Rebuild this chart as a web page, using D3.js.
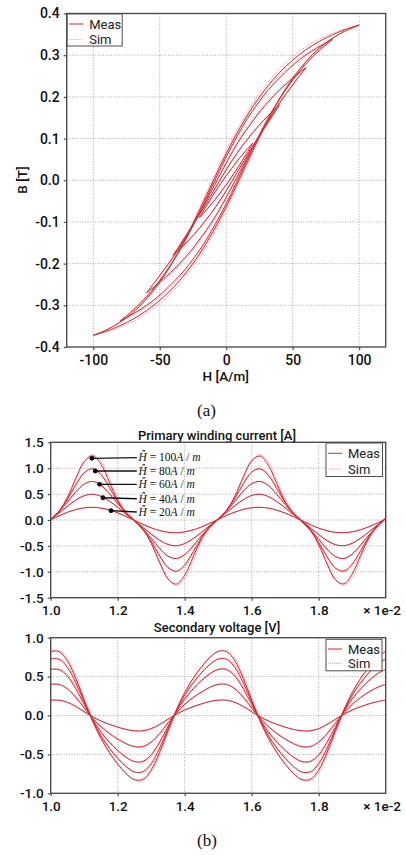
<!DOCTYPE html>
<html><head><meta charset="utf-8">
<script src="https://cdn.jsdelivr.net/npm/d3@7"></script>
<style>body{margin:0;background:#fff}</style>
</head><body><svg id="c" width="406" height="855"></svg>
<script>
// ---------- (a) hysteresis loops ----------
const hystH100 = [-100,-90,-80,-70,-60,-50,-40,-30,-20,-10,0,10,20,30,40,50,60,70,80,90,100];
const hystH80  = [-80,-72,-64,-56,-48,-40,-32,-24,-16,-8,0,8,16,24,32,40,48,56,64,72,80];
const hystH60  = [-60,-54,-48,-42,-36,-30,-24,-18,-12,-6,0,6,12,18,24,30,36,42,48,54,60];
const hystH40  = [-40,-36,-32,-28,-24,-20,-16,-12,-8,-4,0,4,8,12,16,20,24,28,32,36,40];
const hystH20  = [-20,-18,-16,-14,-12,-10,-8,-6,-4,-2,0,2,4,6,8,10,12,14,16,18,20];

const measLower100 = [-0.372,-0.362,-0.349,-0.333,-0.313,-0.288,-0.258,-0.221,-0.177,-0.124,-0.064,0.003,0.071,0.136,0.195,0.245,0.285,0.317,0.341,0.359,0.372];
const measUpper100 = [-0.372,-0.359,-0.341,-0.317,-0.285,-0.245,-0.195,-0.136,-0.071,-0.003,0.064,0.124,0.177,0.221,0.258,0.288,0.313,0.333,0.349,0.362,0.372];
const measLower80 = [-0.338,-0.324,-0.309,-0.291,-0.270,-0.245,-0.218,-0.185,-0.148,-0.104,-0.056,-0.003,0.051,0.103,0.152,0.195,0.232,0.265,0.293,0.317,0.338];
const measUpper80 = [-0.338,-0.317,-0.293,-0.265,-0.232,-0.195,-0.152,-0.103,-0.051,0.003,0.056,0.104,0.148,0.185,0.218,0.245,0.270,0.291,0.309,0.324,0.338];
const measLower60 = [-0.270,-0.255,-0.239,-0.222,-0.203,-0.182,-0.159,-0.133,-0.106,-0.075,-0.041,-0.005,0.031,0.068,0.102,0.135,0.165,0.194,0.220,0.246,0.270];
const measUpper60 = [-0.270,-0.246,-0.220,-0.194,-0.165,-0.135,-0.102,-0.068,-0.031,0.005,0.041,0.075,0.106,0.133,0.159,0.182,0.203,0.222,0.239,0.255,0.270];
const measLower40 = [-0.180,-0.168,-0.156,-0.143,-0.129,-0.114,-0.098,-0.082,-0.064,-0.045,-0.025,-0.004,0.018,0.039,0.061,0.082,0.102,0.122,0.141,0.161,0.180];
const measUpper40 = [-0.180,-0.161,-0.141,-0.122,-0.102,-0.082,-0.061,-0.039,-0.018,0.004,0.025,0.045,0.064,0.082,0.098,0.114,0.129,0.143,0.156,0.168,0.180];
const measLower20 = [-0.089,-0.082,-0.075,-0.068,-0.060,-0.053,-0.045,-0.036,-0.028,-0.019,-0.011,-0.002,0.008,0.017,0.027,0.036,0.047,0.057,0.067,0.078,0.089];
const measUpper20 = [-0.089,-0.078,-0.067,-0.057,-0.047,-0.036,-0.027,-0.017,-0.008,0.002,0.011,0.019,0.028,0.036,0.045,0.053,0.060,0.068,0.075,0.082,0.089];

const simLower100 = [-0.372,-0.364,-0.353,-0.339,-0.320,-0.296,-0.266,-0.229,-0.185,-0.132,-0.071,-0.004,0.065,0.131,0.190,0.241,0.282,0.315,0.340,0.358,0.372];
const simUpper100 = [-0.372,-0.358,-0.340,-0.315,-0.282,-0.241,-0.190,-0.131,-0.065,0.004,0.071,0.132,0.185,0.229,0.266,0.296,0.320,0.339,0.353,0.364,0.372];
const simLower80 = [-0.338,-0.326,-0.312,-0.295,-0.275,-0.251,-0.224,-0.191,-0.154,-0.110,-0.061,-0.008,0.046,0.098,0.148,0.191,0.229,0.263,0.292,0.316,0.338];
const simUpper80 = [-0.338,-0.316,-0.292,-0.263,-0.229,-0.191,-0.148,-0.098,-0.046,0.008,0.061,0.110,0.154,0.191,0.224,0.251,0.275,0.295,0.312,0.326,0.338];
const simLower60 = [-0.270,-0.257,-0.242,-0.226,-0.207,-0.186,-0.163,-0.137,-0.110,-0.079,-0.045,-0.009,0.027,0.064,0.098,0.132,0.163,0.192,0.219,0.245,0.270];
const simUpper60 = [-0.270,-0.245,-0.219,-0.192,-0.163,-0.132,-0.098,-0.064,-0.027,0.009,0.045,0.079,0.110,0.137,0.163,0.186,0.207,0.226,0.242,0.257,0.270];
const simLower40 = [-0.180,-0.169,-0.158,-0.145,-0.131,-0.116,-0.100,-0.084,-0.066,-0.047,-0.027,-0.006,0.016,0.037,0.059,0.080,0.100,0.121,0.140,0.160,0.180];
const simUpper40 = [-0.180,-0.160,-0.140,-0.121,-0.100,-0.080,-0.059,-0.037,-0.016,0.006,0.027,0.047,0.066,0.084,0.100,0.116,0.131,0.145,0.158,0.169,0.180];
const simLower20 = [-0.089,-0.083,-0.076,-0.069,-0.061,-0.054,-0.046,-0.037,-0.029,-0.020,-0.012,-0.003,0.007,0.016,0.026,0.035,0.046,0.056,0.067,0.078,0.089];
const simUpper20 = [-0.089,-0.078,-0.067,-0.056,-0.046,-0.035,-0.026,-0.016,-0.007,0.003,0.012,0.020,0.029,0.037,0.046,0.054,0.061,0.069,0.076,0.083,0.089];

const hystXTicks = [-100,-50,0,50,100];
const hystYTicks = [-0.4,-0.3,-0.2,-0.1,0,0.1,0.2,0.3,0.4];

// ---------- (b) time series (x in units of 1e-2 s) ----------
const timeX = [1.000,1.025,1.050,1.075,1.100,1.125,1.150,1.175,1.200,1.225,1.250,1.275,1.300,1.325,1.350,1.375,1.400,1.425,1.450,1.475,1.500,1.525,1.550,1.575,1.600,1.625,1.650,1.675,1.700,1.725,1.750,1.775,1.800,1.825,1.850,1.875,1.900,1.925,1.950,1.975,2.000];

const curMeas100 = [0.010,0.169,0.440,0.807,1.128,1.239,1.076,0.732,0.376,0.130,-0.016,-0.177,-0.453,-0.822,-1.138,-1.237,-1.065,-0.715,-0.362,-0.123,0.021,0.186,0.466,0.836,1.147,1.235,1.054,0.701,0.350,0.116,-0.026,-0.195,-0.479,-0.851,-1.155,-1.233,-1.042,-0.686,-0.339,-0.109,0.031];
const curMeas80 = [0.012,0.177,0.406,0.682,0.911,0.989,0.875,0.627,0.355,0.140,-0.018,-0.185,-0.416,-0.693,-0.918,-0.988,-0.867,-0.615,-0.344,-0.133,0.024,0.193,0.427,0.703,0.925,0.987,0.859,0.604,0.335,0.127,-0.030,-0.201,-0.437,-0.714,-0.930,-0.985,-0.851,-0.593,-0.325,-0.119,0.036];
const curMeas60 = [0.012,0.168,0.351,0.544,0.695,0.744,0.671,0.507,0.313,0.135,-0.018,-0.175,-0.358,-0.551,-0.699,-0.744,-0.666,-0.499,-0.304,-0.129,0.024,0.182,0.366,0.558,0.703,0.743,0.661,0.491,0.297,0.123,-0.030,-0.189,-0.373,-0.565,-0.707,-0.742,-0.656,-0.484,-0.289,-0.116,0.036];
const curMeas40 = [0.010,0.138,0.267,0.386,0.470,0.497,0.457,0.364,0.242,0.112,-0.015,-0.143,-0.272,-0.390,-0.472,-0.496,-0.454,-0.359,-0.236,-0.107,0.020,0.149,0.277,0.394,0.474,0.496,0.451,0.355,0.231,0.102,-0.025,-0.153,-0.282,-0.398,-0.477,-0.495,-0.448,-0.350,-0.226,-0.097,0.030];
const curMeas20 = [0.006,0.082,0.149,0.202,0.235,0.245,0.230,0.193,0.137,0.067,-0.009,-0.085,-0.152,-0.204,-0.236,-0.245,-0.229,-0.191,-0.134,-0.064,0.012,0.088,0.154,0.206,0.237,0.245,0.228,0.189,0.132,0.061,-0.015,-0.091,-0.157,-0.207,-0.238,-0.244,-0.227,-0.187,-0.129,-0.058,0.018];

const curSim100 = [-0.005,0.137,0.395,0.763,1.109,1.262,1.134,0.800,0.430,0.164,0.009,-0.144,-0.407,-0.778,-1.122,-1.262,-1.124,-0.783,-0.415,-0.156,-0.004,0.152,0.420,0.794,1.132,1.261,1.113,0.768,0.403,0.148,-0.001,-0.161,-0.433,-0.809,-1.141,-1.261,-1.102,-0.753,-0.391,-0.141,0.007];
const curSim80 = [-0.005,0.155,0.380,0.659,0.902,1.001,0.906,0.665,0.388,0.164,0.002,-0.163,-0.390,-0.670,-0.909,-1.001,-0.898,-0.652,-0.377,-0.157,0.004,0.171,0.400,0.680,0.917,1.001,0.891,0.641,0.368,0.150,-0.010,-0.179,-0.410,-0.691,-0.923,-1.000,-0.884,-0.631,-0.357,-0.142,0.018];
const curSim60 = [-0.001,0.152,0.334,0.530,0.688,0.749,0.686,0.528,0.334,0.153,-0.003,-0.159,-0.341,-0.537,-0.692,-0.750,-0.681,-0.520,-0.325,-0.146,0.008,0.166,0.349,0.544,0.697,0.749,0.677,0.512,0.317,0.140,-0.014,-0.173,-0.356,-0.551,-0.701,-0.749,-0.672,-0.505,-0.309,-0.133,0.024];
const curSim40 = [0.002,0.128,0.257,0.378,0.466,0.498,0.462,0.373,0.252,0.122,-0.005,-0.133,-0.262,-0.382,-0.468,-0.497,-0.459,-0.368,-0.246,-0.117,0.010,0.139,0.267,0.386,0.470,0.497,0.457,0.364,0.241,0.112,-0.015,-0.143,-0.272,-0.390,-0.473,-0.496,-0.454,-0.359,-0.236,-0.107,0.022];
const curSim20 = [0.002,0.078,0.145,0.199,0.234,0.245,0.232,0.196,0.141,0.071,-0.004,-0.081,-0.148,-0.201,-0.235,-0.245,-0.231,-0.194,-0.138,-0.068,0.007,0.084,0.150,0.204,0.236,0.245,0.230,0.192,0.136,0.065,-0.010,-0.087,-0.154,-0.205,-0.237,-0.244,-0.229,-0.190,-0.133,-0.062,0.014];

const voltMeas100 = [0.824,0.820,0.701,0.476,0.197,-0.072,-0.297,-0.477,-0.626,-0.747,-0.824,-0.820,-0.701,-0.476,-0.197,0.072,0.297,0.477,0.626,0.747,0.824,0.820,0.701,0.476,0.197,-0.072,-0.297,-0.477,-0.626,-0.747,-0.824,-0.820,-0.701,-0.476,-0.197,0.072,0.297,0.477,0.626,0.747,0.824];
const voltMeas80 = [0.726,0.722,0.617,0.419,0.174,-0.063,-0.262,-0.420,-0.551,-0.658,-0.726,-0.722,-0.617,-0.419,-0.174,0.063,0.262,0.420,0.551,0.658,0.726,0.722,0.617,0.419,0.174,-0.063,-0.262,-0.420,-0.551,-0.658,-0.726,-0.722,-0.617,-0.419,-0.174,0.063,0.262,0.420,0.551,0.658,0.726];
const voltMeas60 = [0.592,0.589,0.504,0.342,0.142,-0.052,-0.214,-0.343,-0.450,-0.537,-0.592,-0.589,-0.504,-0.342,-0.142,0.052,0.214,0.343,0.450,0.537,0.592,0.589,0.504,0.342,0.142,-0.052,-0.214,-0.343,-0.450,-0.537,-0.592,-0.589,-0.504,-0.342,-0.142,0.052,0.214,0.343,0.450,0.537,0.592];
const voltMeas40 = [0.400,0.398,0.340,0.231,0.096,-0.035,-0.144,-0.232,-0.303,-0.362,-0.400,-0.398,-0.340,-0.231,-0.096,0.035,0.144,0.232,0.303,0.362,0.400,0.398,0.340,0.231,0.096,-0.035,-0.144,-0.232,-0.303,-0.362,-0.400,-0.398,-0.340,-0.231,-0.096,0.035,0.144,0.232,0.303,0.362,0.400];
const voltMeas20 = [0.197,0.196,0.168,0.114,0.047,-0.017,-0.071,-0.114,-0.150,-0.179,-0.197,-0.196,-0.168,-0.114,-0.047,0.017,0.071,0.114,0.150,0.179,0.197,0.196,0.168,0.114,0.047,-0.017,-0.071,-0.114,-0.150,-0.179,-0.197,-0.196,-0.168,-0.114,-0.047,0.017,0.071,0.114,0.150,0.179,0.197];

const voltSim100 = [0.828,0.835,0.729,0.511,0.232,-0.042,-0.276,-0.462,-0.615,-0.742,-0.828,-0.835,-0.729,-0.511,-0.232,0.042,0.276,0.462,0.615,0.742,0.828,0.835,0.729,0.511,0.232,-0.042,-0.276,-0.462,-0.615,-0.742,-0.828,-0.835,-0.729,-0.511,-0.232,0.042,0.276,0.462,0.615,0.742,0.828];
const voltSim80 = [0.729,0.735,0.641,0.450,0.205,-0.037,-0.243,-0.407,-0.541,-0.653,-0.729,-0.735,-0.641,-0.450,-0.205,0.037,0.243,0.407,0.541,0.653,0.729,0.735,0.641,0.450,0.205,-0.037,-0.243,-0.407,-0.541,-0.653,-0.729,-0.735,-0.641,-0.450,-0.205,0.037,0.243,0.407,0.541,0.653,0.729];
const voltSim60 = [0.595,0.600,0.524,0.367,0.167,-0.030,-0.198,-0.332,-0.442,-0.533,-0.595,-0.600,-0.524,-0.367,-0.167,0.030,0.198,0.332,0.442,0.533,0.595,0.600,0.524,0.367,0.167,-0.030,-0.198,-0.332,-0.442,-0.533,-0.595,-0.600,-0.524,-0.367,-0.167,0.030,0.198,0.332,0.442,0.533,0.595];
const voltSim40 = [0.402,0.405,0.353,0.248,0.113,-0.021,-0.134,-0.224,-0.298,-0.360,-0.402,-0.405,-0.353,-0.248,-0.113,0.021,0.134,0.224,0.298,0.360,0.402,0.405,0.353,0.248,0.113,-0.021,-0.134,-0.224,-0.298,-0.360,-0.402,-0.405,-0.353,-0.248,-0.113,0.021,0.134,0.224,0.298,0.360,0.402];
const voltSim20 = [0.198,0.200,0.175,0.122,0.056,-0.010,-0.066,-0.111,-0.147,-0.178,-0.198,-0.200,-0.175,-0.122,-0.056,0.010,0.066,0.111,0.147,0.178,0.198,0.200,0.175,0.122,0.056,-0.010,-0.066,-0.111,-0.147,-0.178,-0.198,-0.200,-0.175,-0.122,-0.056,0.010,0.066,0.111,0.147,0.178,0.198];

const timeXTicks = [1.0,1.2,1.4,1.6,1.8];
const timeXGrid = [1.2,1.4,1.6,1.8];
const curYTicks = [-1.5,-1.0,-0.5,0.0,0.5,1.0,1.5];
const voltYTicks = [-1.0,-0.5,0.0,0.5,1.0];

// annotations on the current panel
const annotValues = ["100","80","60","40","20"];
const annotPointX = [1.123,1.133,1.146,1.156,1.180];
const annotPointY = [1.19,0.946,0.689,0.43,0.18];
const annotTextX = 1.262;
const annotLineEndX = 1.257;
const annotTextY = [1.205,0.946,0.689,0.41,0.154];

// ---------- drawing ----------
const svg = d3.select("#c");
const MEAS = "#d3252d", SIM = "#eca3a9", FRAME = "#4d4d4d", GRID = "#9d9d9d";
const FONT = "Roboto, 'Open Sans', sans-serif";
const fmt1 = d => d3.format(".1f")(d).replace("\u2212", "-");
const fmt0 = d => d3.format("d")(d).replace("\u2212", "-");
let clipId = 0;

function panel(o) {
  const g = svg.append("g");
  const x = d3.scaleLinear().domain(o.xDomain).range([o.left, o.right]);
  const y = d3.scaleLinear().domain(o.yDomain).range([o.bottom, o.top]);
  const id = "clip" + (clipId++);
  g.append("clipPath").attr("id", id).append("rect")
    .attr("x", o.left).attr("y", o.top).attr("width", o.right - o.left).attr("height", o.bottom - o.top);
  const grid = g.append("g").attr("stroke", GRID).attr("stroke-width", 0.9).attr("stroke-dasharray", "1,1.6");
  grid.selectAll(".gx").data(o.xGrid).join("line")
    .attr("x1", d => x(d)).attr("x2", d => x(d)).attr("y1", o.top).attr("y2", o.bottom);
  grid.selectAll(".gy").data(o.yGrid).join("line")
    .attr("x1", o.left).attr("x2", o.right).attr("y1", d => y(d)).attr("y2", d => y(d));
  const plot = g.append("g").attr("clip-path", `url(#${id})`);
  const ax = g.append("g").attr("transform", `translate(0,${o.bottom})`)
    .call(d3.axisBottom(x).tickValues(o.xTicks).tickFormat(o.xFmt).tickSize(3).tickPadding(o.xPad));
  const ay = g.append("g").attr("transform", `translate(${o.left},0)`)
    .call(d3.axisLeft(y).tickValues(o.yTicks).tickFormat(o.yFmt).tickSize(3).tickPadding(o.yPad));
  [ax, ay].forEach(a => {
    a.select(".domain").remove();
    a.selectAll(".tick line").attr("stroke", FRAME).attr("stroke-width", 1.2);
    a.selectAll(".tick text").attr("fill", "#111").style("font-family", FONT)
      .style("font-size", o.tickSize + "px").style("font-weight", 500);
  });
  return { g, x, y, plot, o };
}

function frame(p) {
  const o = p.o;
  p.g.append("rect").attr("x", o.left).attr("y", o.top)
    .attr("width", o.right - o.left).attr("height", o.bottom - o.top)
    .attr("fill", "none").attr("stroke", FRAME).attr("stroke-width", 1.4);
}

function legend(p, bx, by, bw, bh, r1, r2) {
  const g = p.g.append("g");
  g.append("rect").attr("x", bx).attr("y", by).attr("width", bw).attr("height", bh)
    .attr("fill", "#fff").attr("stroke", FRAME).attr("stroke-width", 1);
  g.append("line").attr("x1", bx + 2).attr("x2", bx + 16).attr("y1", by + r1).attr("y2", by + r1)
    .attr("stroke", MEAS).attr("stroke-width", 1);
  g.append("line").attr("x1", bx + 2).attr("x2", bx + 16).attr("y1", by + r2).attr("y2", by + r2)
    .attr("stroke", SIM).attr("stroke-width", 1).attr("stroke-dasharray", "1,1");
  g.append("text").attr("x", bx + 22).attr("y", by + r1).attr("dy", "0.35em").text("Meas")
    .style("font-family", FONT).style("font-size", "13px").attr("fill", "#222");
  g.append("text").attr("x", bx + 22).attr("y", by + r2).attr("dy", "0.35em").text("Sim")
    .style("font-family", FONT).style("font-size", "13px").attr("fill", "#222");
}

// ----- panel (a) -----
const pa = panel({
  left: 66.7, right: 385.7, top: 13.5, bottom: 347,
  xDomain: [-120, 120], yDomain: [-0.4, 0.4],
  xTicks: hystXTicks, yTicks: hystYTicks, xGrid: hystXTicks, yGrid: hystYTicks.slice(1, -1),
  xFmt: fmt0, yFmt: fmt1, xPad: 5, yPad: 4, tickSize: 14
});
const loops = [
  [hystH100, measLower100, measUpper100, simLower100, simUpper100],
  [hystH80, measLower80, measUpper80, simLower80, simUpper80],
  [hystH60, measLower60, measUpper60, simLower60, simUpper60],
  [hystH40, measLower40, measUpper40, simLower40, simUpper40],
  [hystH20, measLower20, measUpper20, simLower20, simUpper20]
];
const loopLine = d3.line().x(d => pa.x(d[0])).y(d => pa.y(d[1])).curve(d3.curveCatmullRom.alpha(0.5));
function loopPts(H, lo, up) {
  const a = H.map((h, i) => [h, lo[i]]);
  const b = H.map((h, i) => [h, up[i]]).reverse();
  return [a, b];
}
loops.forEach(L => {
  loopPts(L[0], L[3], L[4]).forEach(seg =>
    pa.plot.append("path").attr("d", loopLine(seg)).attr("fill", "none")
      .attr("stroke", SIM).attr("stroke-width", 1).attr("stroke-dasharray", "1.2,0.8"));
});
loops.forEach(L => {
  loopPts(L[0], L[1], L[2]).forEach(seg =>
    pa.plot.append("path").attr("d", loopLine(seg)).attr("fill", "none")
      .attr("stroke", MEAS).attr("stroke-width", 1));
});
frame(pa);
legend(pa, 67.2, 14, 55, 32, 10, 25.5);
pa.g.append("text").attr("x", 225.7).attr("y", 381).attr("text-anchor", "middle").text("H [A/m]")
  .style("font-family", FONT).style("font-size", "13.5px").style("font-weight", 500).attr("fill", "#111");
pa.g.append("text").attr("transform", "translate(27,180) rotate(-90)").attr("text-anchor", "middle").text("B [T]")
  .style("font-family", FONT).style("font-size", "13.5px").style("font-weight", 500).attr("fill", "#111");
svg.append("text").attr("x", 206.5).attr("y", 416).attr("text-anchor", "middle").text("(a)")
  .style("font-family", "'Liberation Serif', 'Times New Roman', serif").style("font-size", "17px").attr("fill", "#111");

// ----- panel (b) -----
function timePanel(top, bottom, yDomain, yTicks, title, titleY) {
  const p = panel({
    left: 50.7, right: 385.7, top, bottom,
    xDomain: [1.0, 2.0], yDomain,
    xTicks: timeXTicks, yTicks, xGrid: timeXGrid, yGrid: yTicks.slice(1, -1),
    xFmt: fmt1, yFmt: fmt1, xPad: 5, yPad: 4, tickSize: 13.5
  });
  p.g.append("text").attr("x", 217).attr("y", titleY).attr("text-anchor", "middle").text(title)
    .style("font-family", FONT).style("font-size", "13px").style("font-weight", 500).attr("fill", "#111");
  p.g.append("text").attr("x", 401).attr("y", bottom + 8).attr("dy", "0.71em").attr("text-anchor", "end")
    .text("\u00d7 1e-2").style("font-family", FONT).style("font-size", "13.5px").style("font-weight", 500).attr("fill", "#111");
  return p;
}
function drawSeries(p, simList, measList) {
  const line = d3.line().x((d, i) => p.x(timeX[i])).y(d => p.y(d)).curve(d3.curveCatmullRom.alpha(0.5));
  simList.forEach(s => p.plot.append("path").attr("d", line(s)).attr("fill", "none")
    .attr("stroke", SIM).attr("stroke-width", 1.1).attr("stroke-dasharray", "1.2,0.8"));
  measList.forEach(s => p.plot.append("path").attr("d", line(s)).attr("fill", "none")
    .attr("stroke", MEAS).attr("stroke-width", 1));
}

const pc = timePanel(442.3, 597.7, [-1.5, 1.5], curYTicks, "Primary winding current [A]", 439.5);
drawSeries(pc, [curSim100, curSim80, curSim60, curSim40, curSim20], [curMeas100, curMeas80, curMeas60, curMeas40, curMeas20]);
frame(pc);
legend(pc, 326, 443, 56.5, 33.5, 10.3, 26);
const ann = pc.g.append("g");
annotValues.forEach((v, i) => {
  ann.append("line").attr("x1", pc.x(annotPointX[i])).attr("y1", pc.y(annotPointY[i]))
    .attr("x2", pc.x(annotLineEndX)).attr("y2", pc.y(annotTextY[i]))
    .attr("stroke", "#111").attr("stroke-width", 1.3);
  ann.append("circle").attr("cx", pc.x(annotPointX[i])).attr("cy", pc.y(annotPointY[i])).attr("r", 2.4).attr("fill", "#000");
  const t = ann.append("text").attr("x", pc.x(annotTextX)).attr("y", pc.y(annotTextY[i])).attr("dy", "0.33em")
    .style("font-family", "'Liberation Serif', 'Times New Roman', serif").style("font-size", "11.5px").attr("fill", "#111");
  t.append("tspan").style("font-style", "italic").text("\u0124");
  t.append("tspan").text(" = " + v);
  t.append("tspan").style("font-style", "italic").text("A");
  t.append("tspan").text(" / ");
  t.append("tspan").style("font-style", "italic").text("m");
});

const pv = timePanel(637.7, 793.3, [-1.0, 1.0], voltYTicks, "Secondary voltage [V]", 632);
drawSeries(pv, [voltSim100, voltSim80, voltSim60, voltSim40, voltSim20], [voltMeas100, voltMeas80, voltMeas60, voltMeas40, voltMeas20]);
frame(pv);
legend(pv, 326, 639.3, 56, 31.5, 9.7, 24);
svg.append("text").attr("x", 207).attr("y", 846).attr("text-anchor", "middle").text("(b)")
  .style("font-family", "'Liberation Serif', 'Times New Roman', serif").style("font-size", "17px").attr("fill", "#111");
</script>
</body></html>
